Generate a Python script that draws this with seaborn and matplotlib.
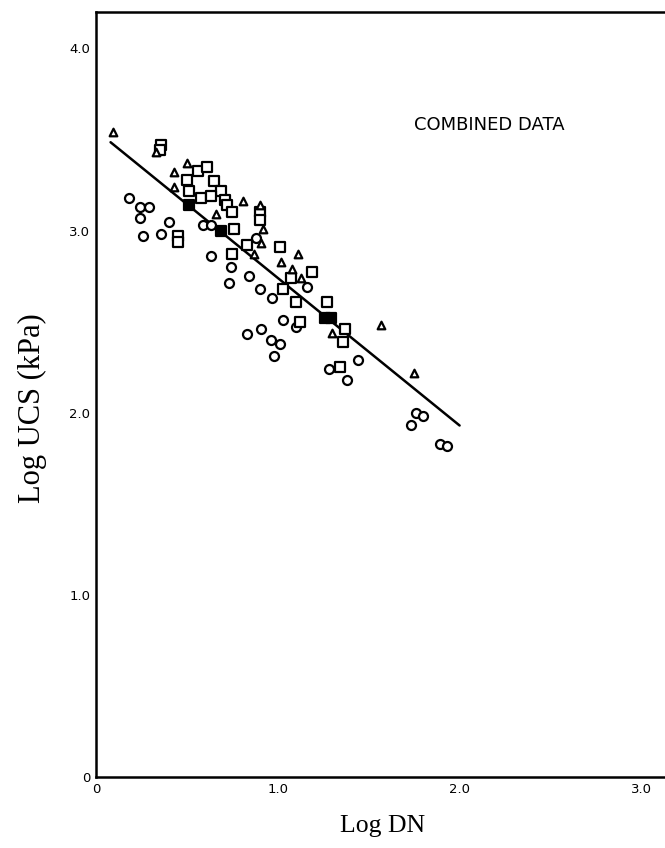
import numpy as np
import pandas as pd
import matplotlib
matplotlib.use("Agg")
import matplotlib.pyplot as plt
import seaborn as sns

# Points (Log DN, Log UCS)
circle_x = [0.18, 0.24, 0.29, 0.24, 0.40, 0.26, 0.36, 0.59, 0.63, 0.88, 0.63, 0.74,
            0.84, 0.73, 0.90, 0.97, 1.16, 1.03, 1.10, 0.91, 0.83, 0.96, 1.01, 0.98,
            1.44, 1.28, 1.38, 1.76, 1.80, 1.73, 1.89, 1.93]
circle_y = [3.18, 3.13, 3.13, 3.07, 3.05, 2.97, 2.98, 3.03, 3.03, 2.96, 2.86, 2.80,
            2.75, 2.71, 2.68, 2.63, 2.69, 2.51, 2.47, 2.46, 2.43, 2.40, 2.38, 2.31,
            2.29, 2.24, 2.18, 2.00, 1.98, 1.93, 1.83, 1.82]

square_x = [0.36, 0.35, 0.56, 0.61, 0.50, 0.65, 0.51, 0.69, 0.58, 0.63, 0.71, 0.72,
            0.75, 0.45, 0.45, 0.76, 0.90, 0.90, 1.01, 0.83, 0.75, 1.19, 1.07, 1.03,
            1.10, 1.27, 1.37, 1.36, 1.34, 1.12]
square_y = [3.47, 3.44, 3.33, 3.35, 3.28, 3.27, 3.22, 3.22, 3.18, 3.19, 3.17, 3.14,
            3.10, 2.97, 2.94, 3.01, 3.10, 3.06, 2.91, 2.92, 2.87, 2.77, 2.74, 2.68,
            2.61, 2.61, 2.46, 2.39, 2.25, 2.50]

filled_x = [0.51, 0.69, 1.26, 1.29]
filled_y = [3.14, 3.00, 2.52, 2.52]

triangle_x = [0.095, 0.33, 0.50, 0.43, 0.43, 0.81, 0.66, 0.90, 0.92, 0.91, 0.87,
              1.11, 1.02, 1.08, 1.13, 1.30, 1.57, 1.75]
triangle_y = [3.54, 3.43, 3.37, 3.32, 3.24, 3.16, 3.09, 3.14, 3.01, 2.93, 2.87,
              2.87, 2.83, 2.79, 2.74, 2.44, 2.48, 2.22]

# fitted line drawn on the original
fit_x = [0.08, 2.0]
fit_intercept = 3.55
fit_slope = -0.81

x_ticks = [0, 1.0, 2.0, 3.0]
x_ticklabels = ["0", "1.0", "2.0", "3.0"]
y_ticks = [0, 1.0, 2.0, 3.0, 4.0]
y_ticklabels = ["0", "1.0", "2.0", "3.0", "4.0"]

sns.set_theme(style="white")

fig = plt.figure(figsize=(6.65, 8.48), dpi=100)
ax = fig.add_axes([0.1444, 0.0837, 0.8556, 0.9021])

circles = pd.DataFrame({"x": circle_x, "y": circle_y})
squares = pd.DataFrame({"x": square_x, "y": square_y})
filled = pd.DataFrame({"x": filled_x, "y": filled_y})
triangles = pd.DataFrame({"x": triangle_x, "y": triangle_y})

kw = dict(ax=ax, s=42, color="white", edgecolor="black", linewidth=1.6, legend=False, zorder=3)
sns.scatterplot(data=circles, x="x", y="y", marker="o", **kw)
sns.scatterplot(data=squares, x="x", y="y", marker="s", **kw)
sns.scatterplot(data=triangles, x="x", y="y", marker="^", **{**kw, "s": 30})
sns.scatterplot(data=filled, x="x", y="y", marker="s", ax=ax, s=42, color="black",
                edgecolor="black", linewidth=1.6, legend=False, zorder=3)

fit_y = [fit_intercept + fit_slope * v for v in fit_x]
ax.plot(fit_x, fit_y, color="black", linewidth=1.8, zorder=2)

ax.set_xlim(0, 3.13)
ax.set_ylim(0, 4.20)
ax.set_xticks(x_ticks)
ax.set_xticklabels(x_ticklabels)
ax.set_yticks(y_ticks)
ax.set_yticklabels(y_ticklabels)
ax.tick_params(direction="in", length=5, width=1.5, labelsize=9.5, colors="black", pad=4)

for side in ["left", "bottom", "top"]:
    ax.spines[side].set_visible(True)
    ax.spines[side].set_color("black")
    ax.spines[side].set_linewidth(1.8)
ax.spines["right"].set_visible(False)

ax.set_xlabel("Log DN", family="Liberation Serif", fontsize=18.5, color="black")
ax.set_ylabel("Log UCS (kPa)", family="Liberation Serif", fontsize=22, color="black")
ax.xaxis.set_label_coords(0.503, -0.049)
ax.yaxis.set_label_coords(-0.086, 0.482)

ax.text(1.75, 3.58, "COMBINED DATA", fontsize=13, color="black", ha="left", va="center")

fig.savefig("out.png", dpi=100)
